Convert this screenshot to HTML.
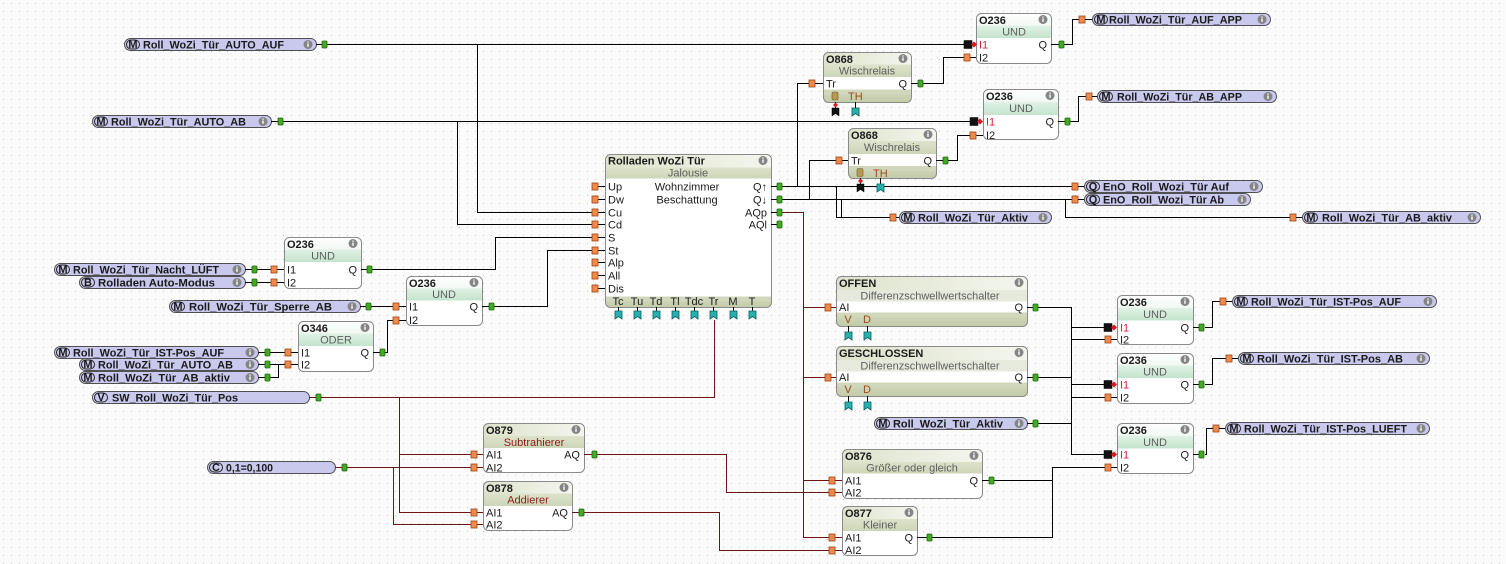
<!DOCTYPE html>
<html><head><meta charset="utf-8">
<style>
html,body{margin:0;padding:0;background:#fbfbfb;}
svg{display:block}
text{font-family:"Liberation Sans",Arial,sans-serif;font-size:11px;fill:#1a1a1a}
.b{font-weight:bold}
.g{fill:#5e5e5e}
.r{fill:#8b1c1c}
.br{fill:#9a4a1c}
.neg{fill:#d4213d}
.w{stroke:#000;stroke-width:1;fill:none}
.a{stroke:#6e1414;stroke-width:1;fill:none}
.op{fill:#ef8a4c;stroke:#9a4514;stroke-width:.8}
.gp{fill:#41ab22;stroke:#1d640c;stroke-width:.8}
.cp{fill:#27b0ae;stroke:#0d5f5e;stroke-width:.8}
.kp{fill:#111;stroke:#000;stroke-width:.5}
.rd{fill:#e0141e}
.pill{fill:#c9c9ee;stroke:#505050;stroke-width:1}
.pre{fill:none;stroke:#222;stroke-width:1}
.box{fill:none;stroke:#8a8a8a;stroke-width:1}
.inf{fill:#858585}
.wh{fill:#fff}
</style></head><body>
<svg width="1506" height="564" viewBox="0 0 1506 564" xmlns="http://www.w3.org/2000/svg">
<defs>
<pattern id="dots" width="8" height="8" patternUnits="userSpaceOnUse"><rect x="3" y="3" width="1" height="1" fill="#c6c6c6"/></pattern>
<linearGradient id="gT" x1="0" y1="0" x2="0" y2="1"><stop offset="0" stop-color="#ffffff"/><stop offset="1" stop-color="#edf6ef"/></linearGradient>
<linearGradient id="gU" x1="0" y1="0" x2="0" y2="1"><stop offset="0" stop-color="#e0f2e5"/><stop offset="1" stop-color="#c4e4cd"/></linearGradient>
<linearGradient id="gO" x1="0" y1="0" x2="1" y2="0"><stop offset="0" stop-color="#dde3cc"/><stop offset="1" stop-color="#f4f6ee"/></linearGradient>
<linearGradient id="gB" x1="0" y1="0" x2="0" y2="1"><stop offset="0" stop-color="#dde3cb"/><stop offset="1" stop-color="#cdd6b8"/></linearGradient>
<linearGradient id="gL" x1="0" y1="0" x2="0" y2="1"><stop offset="0" stop-color="#d2d9bd"/><stop offset="1" stop-color="#c2cba9"/></linearGradient>
</defs>
<rect width="1506" height="564" fill="#fbfbfb"/>
<rect width="1506" height="564" fill="url(#dots)"/>

<!-- ============ WIRES black ============ -->
<g class="w">
<path d="M327 44.5H964"/>
<path d="M477.5 44.5V212.5H592"/>
<path d="M283 121.5H970"/>
<path d="M457.5 121.5V224.5H592"/>
<path d="M1064 44.5H1072.5V19.5H1079"/>
<path d="M1070 121.5H1078.5V96.5H1086"/>
<path d="M923 83.5H943.5V57.5H964"/>
<path d="M948 160.5H957.5V135.5H970"/>
<path d="M782 186.5H1072"/>
<path d="M797.5 186.5V83.5H809"/>
<path d="M836.5 186.5V217.5H890"/>
<path d="M782 199.5H1072"/>
<path d="M809.5 199.5V160.5H836"/>
<path d="M841.5 199.5V217.5"/>
<path d="M1065.5 199.5V217.5H1290"/>
<path d="M372 269.5H495.5V237.5H592"/>
<path d="M494 306.5H547.5V250.5H592"/>
<path d="M257 269.5H271"/>
<path d="M257 282.5H271"/>
<path d="M371 306.5H393"/>
<path d="M385 352.5H387.5V320.5H393"/>
<path d="M270 352.5H285"/>
<path d="M270 364.5H285"/>
<path d="M270 377.5H278.5V364.5"/>
<path d="M1038 307.5H1071.5V454.5H1104"/>
<path d="M1071.5 327.5H1104"/>
<path d="M1071.5 339.5H1105"/>
<path d="M1038 377.5H1071.5"/>
<path d="M1071.5 384.5H1104"/>
<path d="M1071.5 397.5H1105"/>
<path d="M1038 423.5H1071.5"/>
<path d="M994 480.5H1052.5"/>
<path d="M932 537.5H1052.5V467.5H1105"/>
<path d="M1205 327.5H1212.5V301.5H1220"/>
<path d="M1205 384.5H1212.5V358.5H1226"/>
<path d="M1205 454.5H1206.5V428.5H1213"/>
</g>
<!-- ============ WIRES analog ============ -->
<g class="a">
<path d="M321 397.5H714.5V320"/>
<path d="M399.5 397.5V512.5H471"/>
<path d="M399.5 454.5H471"/>
<path d="M347 467.5H471"/>
<path d="M393.5 467.5V524.5H471"/>
<path d="M597 454.5H726.5V492.5H829"/>
<path d="M584 512.5H719.5V550.5H829"/>
<path d="M782 212.5H803.5V537.5H829"/>
<path d="M803.5 307.5H825"/>
<path d="M803.5 377.5H825"/>
<path d="M803.5 480.5H829"/>
</g>

<!-- ============ PILLS (sources) ============ -->
<g>
<!-- AUTO_AUF -->
<rect class="pill" x="124.5" y="38.5" width="192" height="12" rx="6"/>
<rect class="pre" x="126.5" y="40" width="13" height="9" rx="4.5"/><text class="b" x="133" y="48" text-anchor="middle" font-size="9.5">M</text>
<text class="b" x="143" y="48.5" textLength="141" lengthAdjust="spacingAndGlyphs">Roll_WoZi_Tür_AUTO_AUF</text>
<circle class="inf" cx="308" cy="44.5" r="4.5"/><rect class="wh" x="307.3" y="43.5" width="1.4" height="3.3"/><rect class="wh" x="307.3" y="41.5" width="1.4" height="1.2"/>
<path class="w" d="M316 44.5H322"/><rect class="gp" x="322" y="41" width="5" height="7" rx="1"/>

<!-- AUTO_AB -->
<rect class="pill" x="92.5" y="115.5" width="179" height="12" rx="6"/>
<rect class="pre" x="94.5" y="117" width="13" height="9" rx="4.5"/><text class="b" x="101" y="125" text-anchor="middle" font-size="9.5">M</text>
<text class="b" x="111" y="125.5" textLength="135" lengthAdjust="spacingAndGlyphs">Roll_WoZi_Tür_AUTO_AB</text>
<circle class="inf" cx="263" cy="121.5" r="4.5"/><rect class="wh" x="262.3" y="120.5" width="1.4" height="3.3"/><rect class="wh" x="262.3" y="118.5" width="1.4" height="1.2"/>
<path class="w" d="M271 121.5H278"/><rect class="gp" x="278" y="118" width="5" height="7" rx="1"/>

<!-- Nacht_LÜFT -->
<rect class="pill" x="54.5" y="263.5" width="191" height="12" rx="6"/>
<rect class="pre" x="56.5" y="265" width="13" height="9" rx="4.5"/><text class="b" x="63" y="273" text-anchor="middle" font-size="9.5">M</text>
<text class="b" x="73" y="273.5" textLength="146" lengthAdjust="spacingAndGlyphs">Roll_WoZi_Tür_Nacht_LÜFT</text>
<circle class="inf" cx="237" cy="269.5" r="4.5"/><rect class="wh" x="236.3" y="268.5" width="1.4" height="3.3"/><rect class="wh" x="236.3" y="266.5" width="1.4" height="1.2"/>
<path class="w" d="M245 269.5H252"/><rect class="gp" x="252" y="266" width="5" height="7" rx="1"/>

<!-- Auto-Modus -->
<rect class="pill" x="79.5" y="276.5" width="166" height="12" rx="6"/>
<rect class="pre" x="81.5" y="278" width="13" height="9" rx="4.5"/><text class="b" x="88" y="286" text-anchor="middle" font-size="9.5">B</text>
<text class="b" x="98" y="286.5" textLength="117" lengthAdjust="spacingAndGlyphs">Rolladen Auto-Modus</text>
<circle class="inf" cx="237" cy="282.5" r="4.5"/><rect class="wh" x="236.3" y="281.5" width="1.4" height="3.3"/><rect class="wh" x="236.3" y="279.5" width="1.4" height="1.2"/>
<path class="w" d="M245 282.5H252"/><rect class="gp" x="252" y="279" width="5" height="7" rx="1"/>

<!-- Sperre_AB -->
<rect class="pill" x="169.5" y="300.5" width="191" height="12" rx="6"/>
<rect class="pre" x="171.5" y="302" width="13" height="9" rx="4.5"/><text class="b" x="178" y="310" text-anchor="middle" font-size="9.5">M</text>
<text class="b" x="189" y="310.5" textLength="143" lengthAdjust="spacingAndGlyphs">Roll_WoZi_Tür_Sperre_AB</text>
<circle class="inf" cx="352" cy="306.5" r="4.5"/><rect class="wh" x="351.3" y="305.5" width="1.4" height="3.3"/><rect class="wh" x="351.3" y="303.5" width="1.4" height="1.2"/>
<path class="w" d="M360 306.5H366"/><rect class="gp" x="366" y="303" width="5" height="7" rx="1"/>

<!-- IST-Pos_AUF left -->
<rect class="pill" x="54.5" y="346.5" width="204" height="12" rx="6"/>
<rect class="pre" x="56.5" y="348" width="13" height="9" rx="4.5"/><text class="b" x="63" y="356" text-anchor="middle" font-size="9.5">M</text>
<text class="b" x="73" y="356.5" textLength="151" lengthAdjust="spacingAndGlyphs">Roll_WoZi_Tür_IST-Pos_AUF</text>
<circle class="inf" cx="250" cy="352.5" r="4.5"/><rect class="wh" x="249.3" y="351.5" width="1.4" height="3.3"/><rect class="wh" x="249.3" y="349.5" width="1.4" height="1.2"/>
<path class="w" d="M258 352.5H265"/><rect class="gp" x="265" y="349" width="5" height="7" rx="1"/>

<!-- AUTO_AB left -->
<rect class="pill" x="79.5" y="358.5" width="179" height="12" rx="6"/>
<rect class="pre" x="81.5" y="360" width="13" height="9" rx="4.5"/><text class="b" x="88" y="368" text-anchor="middle" font-size="9.5">M</text>
<text class="b" x="98" y="368.5" textLength="135" lengthAdjust="spacingAndGlyphs">Roll_WoZi_Tür_AUTO_AB</text>
<circle class="inf" cx="250" cy="364.5" r="4.5"/><rect class="wh" x="249.3" y="363.5" width="1.4" height="3.3"/><rect class="wh" x="249.3" y="361.5" width="1.4" height="1.2"/>
<path class="w" d="M258 364.5H265"/><rect class="gp" x="265" y="361" width="5" height="7" rx="1"/>

<!-- AB_aktiv left -->
<rect class="pill" x="79.5" y="371.5" width="179" height="12" rx="6"/>
<rect class="pre" x="81.5" y="373" width="13" height="9" rx="4.5"/><text class="b" x="88" y="381" text-anchor="middle" font-size="9.5">M</text>
<text class="b" x="98" y="381.5" textLength="132" lengthAdjust="spacingAndGlyphs">Roll_WoZi_Tür_AB_aktiv</text>
<circle class="inf" cx="250" cy="377.5" r="4.5"/><rect class="wh" x="249.3" y="376.5" width="1.4" height="3.3"/><rect class="wh" x="249.3" y="374.5" width="1.4" height="1.2"/>
<path class="w" d="M258 377.5H265"/><rect class="gp" x="265" y="374" width="5" height="7" rx="1"/>

<!-- SW_Pos -->
<rect class="pill" x="92.5" y="391.5" width="217" height="12" rx="6"/>
<rect class="pre" x="94.5" y="393" width="13" height="9" rx="4.5"/><text class="b" x="101" y="401" text-anchor="middle" font-size="9.5">V</text>
<text class="b" x="112" y="401.5" textLength="126" lengthAdjust="spacingAndGlyphs">SW_Roll_WoZi_Tür_Pos</text>
<path class="a" d="M309 397.5H316"/><rect class="gp" x="316" y="394" width="5" height="7" rx="1"/>

<!-- Aktiv 2 -->
<rect class="pill" x="874.5" y="417.5" width="153" height="12" rx="6"/>
<rect class="pre" x="876.5" y="419" width="13" height="9" rx="4.5"/><text class="b" x="883" y="427" text-anchor="middle" font-size="9.5">M</text>
<text class="b" x="893" y="427.5" textLength="110" lengthAdjust="spacingAndGlyphs">Roll_WoZi_Tür_Aktiv</text>
<circle class="inf" cx="1019" cy="423.5" r="4.5"/><rect class="wh" x="1018.3" y="422.5" width="1.4" height="3.3"/><rect class="wh" x="1018.3" y="420.5" width="1.4" height="1.2"/>
<path class="w" d="M1027 423.5H1033"/><rect class="gp" x="1033" y="420" width="5" height="7" rx="1"/>

<!-- C constant -->
<rect class="pill" x="207.5" y="461.5" width="128" height="12" rx="6"/>
<rect class="pre" x="209.5" y="463" width="13" height="9" rx="4.5"/><text class="b" x="216" y="471" text-anchor="middle" font-size="9.5">C</text>
<text class="b" x="226" y="471.5" textLength="47" lengthAdjust="spacingAndGlyphs">0,1=0,100</text>
<path class="a" d="M335 467.5H342"/><rect class="gp" x="342" y="464" width="5" height="7" rx="1"/>
</g>

<!-- ============ PILLS (sinks) ============ -->
<g>
<!-- AUF_APP -->
<rect class="op" x="1079" y="16" width="6" height="7"/><path class="w" d="M1085 19.5H1092"/>
<rect class="pill" x="1092.5" y="13.5" width="178" height="12" rx="6"/>
<rect class="pre" x="1094.5" y="15" width="13" height="9" rx="4.5"/><text class="b" x="1101" y="23" text-anchor="middle" font-size="9.5">M</text>
<text class="b" x="1109" y="23.5" textLength="133" lengthAdjust="spacingAndGlyphs">Roll_WoZi_Tür_AUF_APP</text>
<circle class="inf" cx="1262" cy="19.5" r="4.5"/><rect class="wh" x="1261.3" y="18.5" width="1.4" height="3.3"/><rect class="wh" x="1261.3" y="16.5" width="1.4" height="1.2"/>

<!-- AB_APP -->
<rect class="op" x="1086" y="93" width="6" height="7"/><path class="w" d="M1092 96.5H1097"/>
<rect class="pill" x="1097.5" y="90.5" width="179" height="12" rx="6"/>
<rect class="pre" x="1099.5" y="92" width="13" height="9" rx="4.5"/><text class="b" x="1106" y="100" text-anchor="middle" font-size="9.5">M</text>
<text class="b" x="1117" y="100.5" textLength="125" lengthAdjust="spacingAndGlyphs">Roll_WoZi_Tür_AB_APP</text>
<circle class="inf" cx="1268" cy="96.5" r="4.5"/><rect class="wh" x="1267.3" y="95.5" width="1.4" height="3.3"/><rect class="wh" x="1267.3" y="93.5" width="1.4" height="1.2"/>

<!-- EnO Auf -->
<rect class="op" x="1072" y="183" width="6" height="7"/><path class="w" d="M1078 186.5H1084"/>
<rect class="pill" x="1084.5" y="180.5" width="178" height="12" rx="6"/>
<rect class="pre" x="1086.5" y="182" width="13" height="9" rx="4.5"/><text class="b" x="1093" y="190" text-anchor="middle" font-size="9.5">Q</text>
<text class="b" x="1103" y="190.5" textLength="126" lengthAdjust="spacingAndGlyphs">EnO_Roll_Wozi_Tür Auf</text>
<circle class="inf" cx="1254" cy="186.5" r="4.5"/><rect class="wh" x="1253.3" y="185.5" width="1.4" height="3.3"/><rect class="wh" x="1253.3" y="183.5" width="1.4" height="1.2"/>

<!-- EnO Ab -->
<rect class="op" x="1072" y="196" width="6" height="7"/><path class="w" d="M1078 199.5H1084"/>
<rect class="pill" x="1084.5" y="193.5" width="166" height="12" rx="6"/>
<rect class="pre" x="1086.5" y="195" width="13" height="9" rx="4.5"/><text class="b" x="1093" y="203" text-anchor="middle" font-size="9.5">Q</text>
<text class="b" x="1103" y="203.5" textLength="121" lengthAdjust="spacingAndGlyphs">EnO_Roll_Wozi_Tür Ab</text>
<circle class="inf" cx="1242" cy="199.5" r="4.5"/><rect class="wh" x="1241.3" y="198.5" width="1.4" height="3.3"/><rect class="wh" x="1241.3" y="196.5" width="1.4" height="1.2"/>

<!-- AB_aktiv right -->
<rect class="op" x="1290" y="214" width="6" height="7"/><path class="w" d="M1296 217.5H1302"/>
<rect class="pill" x="1302.5" y="211.5" width="178" height="12" rx="6"/>
<rect class="pre" x="1304.5" y="213" width="13" height="9" rx="4.5"/><text class="b" x="1311" y="221" text-anchor="middle" font-size="9.5">M</text>
<text class="b" x="1322" y="221.5" textLength="130" lengthAdjust="spacingAndGlyphs">Roll_WoZi_Tür_AB_aktiv</text>
<circle class="inf" cx="1472" cy="217.5" r="4.5"/><rect class="wh" x="1471.3" y="216.5" width="1.4" height="3.3"/><rect class="wh" x="1471.3" y="214.5" width="1.4" height="1.2"/>

<!-- Aktiv top -->
<rect class="op" x="890" y="214" width="6" height="7"/><path class="w" d="M896 217.5H899"/>
<rect class="pill" x="899.5" y="211.5" width="152" height="12" rx="6"/>
<rect class="pre" x="901.5" y="213" width="13" height="9" rx="4.5"/><text class="b" x="908" y="221" text-anchor="middle" font-size="9.5">M</text>
<text class="b" x="918" y="221.5" textLength="110" lengthAdjust="spacingAndGlyphs">Roll_WoZi_Tür_Aktiv</text>
<circle class="inf" cx="1043" cy="217.5" r="4.5"/><rect class="wh" x="1042.3" y="216.5" width="1.4" height="3.3"/><rect class="wh" x="1042.3" y="214.5" width="1.4" height="1.2"/>

<!-- IST-Pos_AUF right -->
<rect class="op" x="1220" y="298" width="6" height="7"/><path class="w" d="M1226 301.5H1232"/>
<rect class="pill" x="1232.5" y="295.5" width="204" height="12" rx="6"/>
<rect class="pre" x="1234.5" y="297" width="13" height="9" rx="4.5"/><text class="b" x="1241" y="305" text-anchor="middle" font-size="9.5">M</text>
<text class="b" x="1251" y="305.5" textLength="150" lengthAdjust="spacingAndGlyphs">Roll_WoZi_Tür_IST-Pos_AUF</text>
<circle class="inf" cx="1428" cy="301.5" r="4.5"/><rect class="wh" x="1427.3" y="300.5" width="1.4" height="3.3"/><rect class="wh" x="1427.3" y="298.5" width="1.4" height="1.2"/>

<!-- IST-Pos_AB -->
<rect class="op" x="1226" y="355" width="6" height="7"/><path class="w" d="M1232 358.5H1238"/>
<rect class="pill" x="1238.5" y="352.5" width="191" height="12" rx="6"/>
<rect class="pre" x="1240.5" y="354" width="13" height="9" rx="4.5"/><text class="b" x="1247" y="362" text-anchor="middle" font-size="9.5">M</text>
<text class="b" x="1257" y="362.5" textLength="146" lengthAdjust="spacingAndGlyphs">Roll_WoZi_Tür_IST-Pos_AB</text>
<circle class="inf" cx="1421" cy="358.5" r="4.5"/><rect class="wh" x="1420.3" y="357.5" width="1.4" height="3.3"/><rect class="wh" x="1420.3" y="355.5" width="1.4" height="1.2"/>

<!-- IST-Pos_LUEFT -->
<rect class="op" x="1213" y="425" width="6" height="7"/><path class="w" d="M1219 428.5H1225"/>
<rect class="pill" x="1225.5" y="422.5" width="204" height="12" rx="6"/>
<rect class="pre" x="1227.5" y="424" width="13" height="9" rx="4.5"/><text class="b" x="1234" y="432" text-anchor="middle" font-size="9.5">M</text>
<text class="b" x="1244" y="432.5" textLength="163" lengthAdjust="spacingAndGlyphs">Roll_WoZi_Tür_IST-Pos_LUEFT</text>
<circle class="inf" cx="1421" cy="428.5" r="4.5"/><rect class="wh" x="1420.3" y="427.5" width="1.4" height="3.3"/><rect class="wh" x="1420.3" y="425.5" width="1.4" height="1.2"/>
</g>

<!-- ============ MAIN BLOCK ============ -->
<g>
<rect x="605.5" y="154.5" width="166" height="153" rx="5" fill="#fff"/>
<rect x="605.5" y="154.5" width="166" height="18" rx="5" fill="url(#gO)"/>
<rect x="605.5" y="167.5" width="166" height="11" fill="url(#gB)"/>
<rect x="605.5" y="296.5" width="166" height="11" rx="5" fill="url(#gL)"/>
<rect x="605.5" y="296.5" width="166" height="5" fill="#d0d7bb"/>
<rect class="box" x="605.5" y="154.5" width="166" height="153" rx="5"/>
<text class="b" x="608" y="164.5">Rolladen WoZi Tür</text>
<circle class="inf" cx="763" cy="160.5" r="4.5"/><rect class="wh" x="762.3" y="159.5" width="1.4" height="3.3"/><rect class="wh" x="762.3" y="157.5" width="1.4" height="1.2"/>
<text class="g" x="688" y="176.5" text-anchor="middle">Jalousie</text>
<text x="687" y="190.5" text-anchor="middle">Wohnzimmer</text>
<text x="687" y="203.5" text-anchor="middle">Beschattung</text>
<g>
<text x="608" y="190.5">Up</text><text x="608" y="203.5">Dw</text><text x="608" y="216.5">Cu</text><text x="608" y="228.5">Cd</text>
<text x="608" y="241.5">S</text><text x="608" y="254.5">St</text><text x="608" y="266.5">Alp</text><text x="608" y="279.5">All</text><text x="608" y="292.5">Dis</text>
</g>
<g class="w">
<path d="M598 186.5H605M598 199.5H605M598 212.5H605M598 224.5H605M598 237.5H605M598 250.5H605M598 262.5H605M598 275.5H605M598 288.5H605"/>
</g>
<rect class="op" x="592" y="183" width="6" height="7"/><rect class="op" x="592" y="196" width="6" height="7"/><rect class="op" x="592" y="209" width="6" height="7"/>
<rect class="op" x="592" y="221" width="6" height="7"/><rect class="op" x="592" y="234" width="6" height="7"/><rect class="op" x="592" y="247" width="6" height="7"/>
<rect class="op" x="592" y="259" width="6" height="7"/><rect class="op" x="592" y="272" width="6" height="7"/><rect class="op" x="592" y="285" width="6" height="7"/>
<text x="767" y="190.5" text-anchor="end">Q↑</text><text x="767" y="203.5" text-anchor="end">Q↓</text>
<text x="767" y="216.5" text-anchor="end">AQp</text><text x="767" y="228.5" text-anchor="end">AQl</text>
<path class="w" d="M771 186.5H777M771 199.5H777M771 212.5H777M771 224.5H777"/>
<rect class="gp" x="777" y="183" width="5" height="7" rx="1"/><rect class="gp" x="777" y="196" width="5" height="7" rx="1"/>
<rect class="gp" x="777" y="209" width="5" height="7" rx="1"/><rect class="gp" x="777" y="221" width="5" height="7" rx="1"/>
<g class="br" text-anchor="middle">
<text x="618" y="305">Tc</text><text x="637" y="305">Tu</text><text x="656" y="305">Td</text><text x="675" y="305">Tl</text>
<text x="694" y="305">Tdc</text><text x="713.5" y="305">Tr</text><text x="733" y="305">M</text><text x="752" y="305">T</text>
</g>
<path class="w" d="M618.5 307V311M637.5 307V311M656.5 307V311M675.5 307V311M694.5 307V311M713.5 307V311M733.5 307V311M752.5 307V311"/>
<g class="cp">
<path d="M615 311H622V319L618.5 316.5L615 319Z"/><path d="M634 311H641V319L637.5 316.5L634 319Z"/>
<path d="M653 311H660V319L656.5 316.5L653 319Z"/><path d="M672 311H679V319L675.5 316.5L672 319Z"/>
<path d="M691 311H698V319L694.5 316.5L691 319Z"/><path d="M710 311H717V319L713.5 316.5L710 319Z"/>
<path d="M730 311H737V319L733.5 316.5L730 319Z"/><path d="M749 311H756V319L752.5 316.5L749 319Z"/>
</g>
</g>

<!-- ============ UND top1 ============ -->
<g>
<rect x="976.5" y="13.5" width="75" height="50" rx="5" fill="#fff"/>
<rect x="976.5" y="13.5" width="75" height="16" rx="5" fill="url(#gT)"/>
<rect x="976.5" y="26" width="75" height="12" fill="url(#gU)"/>
<rect class="box" x="976.5" y="13.5" width="75" height="50" rx="5"/>
<text class="b" x="979" y="24">O236</text>
<circle class="inf" cx="1043" cy="19.5" r="4.5"/><rect class="wh" x="1042.3" y="18.5" width="1.4" height="3.3"/><rect class="wh" x="1042.3" y="16.5" width="1.4" height="1.2"/>
<text class="g" x="1014" y="35.5" text-anchor="middle">UND</text>
<text class="neg" x="979" y="48.5">I1</text><text x="979" y="61.5">I2</text>
<text x="1047" y="48.5" text-anchor="end">Q</text>
<rect class="kp" x="964" y="40.5" width="8" height="8"/><path class="rd" d="M971 44.5L974 41.5L977 44.5L974 47.5Z"/>
<path class="w" d="M970 57.5H976"/><rect class="op" x="964" y="54" width="6" height="7"/>
<path class="w" d="M1051 44.5H1059"/><rect class="gp" x="1059" y="41" width="5" height="7" rx="1"/>
</g>

<!-- ============ UND top2 ============ -->
<g>
<rect x="983.5" y="89.5" width="75" height="50" rx="5" fill="#fff"/>
<rect x="983.5" y="89.5" width="75" height="16" rx="5" fill="url(#gT)"/>
<rect x="983.5" y="102" width="75" height="13" fill="url(#gU)"/>
<rect class="box" x="983.5" y="89.5" width="75" height="50" rx="5"/>
<text class="b" x="986" y="100">O236</text>
<circle class="inf" cx="1050" cy="95.5" r="4.5"/><rect class="wh" x="1049.3" y="94.5" width="1.4" height="3.3"/><rect class="wh" x="1049.3" y="92.5" width="1.4" height="1.2"/>
<text class="g" x="1021" y="112" text-anchor="middle">UND</text>
<text class="neg" x="986" y="125.5">I1</text><text x="986" y="139">I2</text>
<text x="1054" y="125.5" text-anchor="end">Q</text>
<rect class="kp" x="970" y="117.5" width="8" height="8"/><path class="rd" d="M977 121.5L980 118.5L983 121.5L980 124.5Z"/>
<path class="w" d="M976 135.5H983"/><rect class="op" x="970" y="132" width="6" height="7"/>
<path class="w" d="M1058 121.5H1065"/><rect class="gp" x="1065" y="118" width="5" height="7" rx="1"/>
</g>

<!-- ============ Wischrelais 1 ============ -->
<g>
<rect x="823.5" y="52.5" width="88" height="50" rx="5" fill="#fff"/>
<rect x="823.5" y="52.5" width="88" height="16" rx="5" fill="url(#gO)"/>
<rect x="823.5" y="64.5" width="88" height="12.5" fill="url(#gB)"/>
<rect x="823.5" y="89.5" width="88" height="13" rx="5" fill="url(#gL)"/>
<rect x="823.5" y="89.5" width="88" height="5" fill="#d0d7bb"/>
<rect class="box" x="823.5" y="52.5" width="88" height="50" rx="5"/>
<text class="b" x="826" y="63">O868</text>
<circle class="inf" cx="903" cy="58.5" r="4.5"/><rect class="wh" x="902.3" y="57.5" width="1.4" height="3.3"/><rect class="wh" x="902.3" y="55.5" width="1.4" height="1.2"/>
<text class="g" x="867" y="74.5" text-anchor="middle">Wischrelais</text>
<text x="826" y="87.5">Tr</text><text x="907" y="87.5" text-anchor="end">Q</text>
<rect x="832" y="92" width="6" height="8" rx="1.5" fill="#b69a52" stroke="#6b5a2a" stroke-width=".6"/>
<text class="br" x="848" y="100">TH</text>
<path class="w" d="M815 83.5H823"/><rect class="op" x="809" y="80" width="6" height="7"/>
<path class="w" d="M911 83.5H918"/><rect class="gp" x="918" y="80" width="5" height="7" rx="1"/>
<path class="w" d="M835.5 102V108M855.5 102V108"/>
<path class="rd" d="M835.5 102.5L838 105L835.5 107.5L833 105Z"/>
<path class="kp" d="M832 108H839V116L835.5 113.5L832 116Z"/>
<path class="cp" d="M852 108H859V116L855.5 113.5L852 116Z"/>
</g>

<!-- ============ Wischrelais 2 ============ -->
<g>
<rect x="848.5" y="128.5" width="88" height="50" rx="5" fill="#fff"/>
<rect x="848.5" y="128.5" width="88" height="16" rx="5" fill="url(#gO)"/>
<rect x="848.5" y="141" width="88" height="13" fill="url(#gB)"/>
<rect x="848.5" y="166" width="88" height="12.5" rx="5" fill="url(#gL)"/>
<rect x="848.5" y="166" width="88" height="5" fill="#d0d7bb"/>
<rect class="box" x="848.5" y="128.5" width="88" height="50" rx="5"/>
<text class="b" x="851" y="139">O868</text>
<circle class="inf" cx="928" cy="134.5" r="4.5"/><rect class="wh" x="927.3" y="133.5" width="1.4" height="3.3"/><rect class="wh" x="927.3" y="131.5" width="1.4" height="1.2"/>
<text class="g" x="892" y="151" text-anchor="middle">Wischrelais</text>
<text x="851" y="164.5">Tr</text><text x="932" y="164.5" text-anchor="end">Q</text>
<rect x="857" y="168.5" width="6" height="8" rx="1.5" fill="#b69a52" stroke="#6b5a2a" stroke-width=".6"/>
<text class="br" x="873" y="177">TH</text>
<path class="w" d="M842 160.5H848"/><rect class="op" x="836" y="157" width="6" height="7"/>
<path class="w" d="M936 160.5H943"/><rect class="gp" x="943" y="157" width="5" height="7" rx="1"/>
<path class="w" d="M860.5 178V184M880.5 178V184"/>
<path class="rd" d="M860.5 178.5L863 181L860.5 183.5L858 181Z"/>
<path class="kp" d="M857 184H864V192L860.5 189.5L857 192Z"/>
<path class="cp" d="M877 184H884V192L880.5 189.5L877 192Z"/>
</g>

<!-- ============ UND A ============ -->
<g>
<rect x="284.5" y="237.5" width="77" height="51" rx="5" fill="#fff"/>
<rect x="284.5" y="237.5" width="77" height="16" rx="5" fill="url(#gT)"/>
<rect x="284.5" y="249.5" width="77" height="12.5" fill="url(#gU)"/>
<rect class="box" x="284.5" y="237.5" width="77" height="51" rx="5"/>
<text class="b" x="287" y="248">O236</text>
<circle class="inf" cx="353" cy="243.5" r="4.5"/><rect class="wh" x="352.3" y="242.5" width="1.4" height="3.3"/><rect class="wh" x="352.3" y="240.5" width="1.4" height="1.2"/>
<text class="g" x="323" y="259.5" text-anchor="middle">UND</text>
<text x="287" y="273.5">I1</text><text x="287" y="286.5">I2</text>
<text x="357" y="273.5" text-anchor="end">Q</text>
<path class="w" d="M277 269.5H284M277 282.5H284"/>
<rect class="op" x="271" y="266" width="6" height="7"/><rect class="op" x="271" y="279" width="6" height="7"/>
<path class="w" d="M361 269.5H367"/><rect class="gp" x="367" y="266" width="5" height="7" rx="1"/>
</g>

<!-- ============ UND B ============ -->
<g>
<rect x="406.5" y="276.5" width="76" height="49" rx="5" fill="#fff"/>
<rect x="406.5" y="276.5" width="76" height="16" rx="5" fill="url(#gT)"/>
<rect x="406.5" y="288.5" width="76" height="12" fill="url(#gU)"/>
<rect class="box" x="406.5" y="276.5" width="76" height="49" rx="5"/>
<text class="b" x="409" y="287">O236</text>
<circle class="inf" cx="474" cy="282.5" r="4.5"/><rect class="wh" x="473.3" y="281.5" width="1.4" height="3.3"/><rect class="wh" x="473.3" y="279.5" width="1.4" height="1.2"/>
<text class="g" x="444" y="298" text-anchor="middle">UND</text>
<text x="409" y="310.5">I1</text><text x="409" y="324">I2</text>
<text x="478" y="310.5" text-anchor="end">Q</text>
<path class="w" d="M399 306.5H406M399 320.5H406"/>
<rect class="op" x="393" y="303" width="6" height="7"/><rect class="op" x="393" y="317" width="6" height="7"/>
<path class="w" d="M482 306.5H489"/><rect class="gp" x="489" y="303" width="5" height="7" rx="1"/>
</g>

<!-- ============ ODER ============ -->
<g>
<rect x="298.5" y="321.5" width="75" height="50" rx="5" fill="#fff"/>
<rect x="298.5" y="321.5" width="75" height="16" rx="5" fill="url(#gT)"/>
<rect x="298.5" y="333.5" width="75" height="12.5" fill="url(#gU)"/>
<rect class="box" x="298.5" y="321.5" width="75" height="50" rx="5"/>
<text class="b" x="301" y="332">O346</text>
<circle class="inf" cx="365" cy="327.5" r="4.5"/><rect class="wh" x="364.3" y="326.5" width="1.4" height="3.3"/><rect class="wh" x="364.3" y="324.5" width="1.4" height="1.2"/>
<text class="g" x="336" y="343.5" text-anchor="middle">ODER</text>
<text x="301" y="356.5">I1</text><text x="301" y="368.5">I2</text>
<text x="369" y="356.5" text-anchor="end">Q</text>
<path class="w" d="M291 352.5H298M291 364.5H298"/>
<rect class="op" x="285" y="349" width="6" height="7"/><rect class="op" x="285" y="361" width="6" height="7"/>
<path class="w" d="M373 352.5H380"/><rect class="gp" x="380" y="349" width="5" height="7" rx="1"/>
</g>

<!-- ============ OFFEN ============ -->
<g>
<rect x="836.5" y="276.5" width="191" height="50" rx="5" fill="#fff"/>
<rect x="836.5" y="276.5" width="191" height="17" rx="5" fill="url(#gO)"/>
<rect x="836.5" y="290" width="191" height="11.5" fill="#e6eadc"/>
<rect x="836.5" y="312.5" width="191" height="14" rx="5" fill="url(#gL)"/>
<rect x="836.5" y="312.5" width="191" height="5" fill="#d0d7bb"/>
<rect class="box" x="836.5" y="276.5" width="191" height="50" rx="5"/>
<text class="b" x="839" y="287">OFFEN</text>
<circle class="inf" cx="1019" cy="282.5" r="4.5"/><rect class="wh" x="1018.3" y="281.5" width="1.4" height="3.3"/><rect class="wh" x="1018.3" y="279.5" width="1.4" height="1.2"/>
<text class="g" x="930" y="299.5" text-anchor="middle">Differenzschwellwertschalter</text>
<text x="839" y="311">AI</text><text x="1023" y="311" text-anchor="end">Q</text>
<text class="br" x="848" y="323" text-anchor="middle">V</text><text class="br" x="867" y="323" text-anchor="middle">D</text>
<path class="a" d="M831 307.5H836"/><rect class="op" x="825" y="304" width="6" height="7"/>
<path class="w" d="M1027 307.5H1033"/><rect class="gp" x="1033" y="304" width="5" height="7" rx="1"/>
<path class="w" d="M848.5 326V332M867.5 326V332"/>
<path class="cp" d="M845 332H852V340L848.5 337.5L845 340Z"/><path class="cp" d="M864 332H871V340L867.5 337.5L864 340Z"/>
</g>

<!-- ============ GESCHLOSSEN ============ -->
<g>
<rect x="836.5" y="346.5" width="191" height="50" rx="5" fill="#fff"/>
<rect x="836.5" y="346.5" width="191" height="17" rx="5" fill="url(#gO)"/>
<rect x="836.5" y="360" width="191" height="11.5" fill="#e6eadc"/>
<rect x="836.5" y="382.5" width="191" height="14" rx="5" fill="url(#gL)"/>
<rect x="836.5" y="382.5" width="191" height="5" fill="#d0d7bb"/>
<rect class="box" x="836.5" y="346.5" width="191" height="50" rx="5"/>
<text class="b" x="839" y="357">GESCHLOSSEN</text>
<circle class="inf" cx="1019" cy="352.5" r="4.5"/><rect class="wh" x="1018.3" y="351.5" width="1.4" height="3.3"/><rect class="wh" x="1018.3" y="349.5" width="1.4" height="1.2"/>
<text class="g" x="930" y="369.5" text-anchor="middle">Differenzschwellwertschalter</text>
<text x="839" y="381">AI</text><text x="1023" y="381" text-anchor="end">Q</text>
<text class="br" x="848" y="393" text-anchor="middle">V</text><text class="br" x="867" y="393" text-anchor="middle">D</text>
<path class="a" d="M831 377.5H836"/><rect class="op" x="825" y="374" width="6" height="7"/>
<path class="w" d="M1027 377.5H1033"/><rect class="gp" x="1033" y="374" width="5" height="7" rx="1"/>
<path class="w" d="M848.5 396V402M867.5 396V402"/>
<path class="cp" d="M845 402H852V410L848.5 407.5L845 410Z"/><path class="cp" d="M864 402H871V410L867.5 407.5L864 410Z"/>
</g>

<!-- ============ UND R1 ============ -->
<g>
<rect x="1117.5" y="295.5" width="76" height="49" rx="5" fill="#fff"/>
<rect x="1117.5" y="295.5" width="76" height="16" rx="5" fill="url(#gT)"/>
<rect x="1117.5" y="308" width="76" height="12.5" fill="url(#gU)"/>
<rect class="box" x="1117.5" y="295.5" width="76" height="49" rx="5"/>
<text class="b" x="1120" y="306">O236</text>
<circle class="inf" cx="1185" cy="301.5" r="4.5"/><rect class="wh" x="1184.3" y="300.5" width="1.4" height="3.3"/><rect class="wh" x="1184.3" y="298.5" width="1.4" height="1.2"/>
<text class="g" x="1155" y="318" text-anchor="middle">UND</text>
<text class="neg" x="1120" y="331.5">I1</text><text x="1120" y="343.5">I2</text>
<text x="1189" y="331.5" text-anchor="end">Q</text>
<rect class="kp" x="1104" y="323.5" width="8" height="8"/><path class="rd" d="M1111 327.5L1114 324.5L1117 327.5L1114 330.5Z"/>
<path class="w" d="M1111 339.5H1117"/><rect class="op" x="1105" y="336" width="6" height="7"/>
<path class="w" d="M1193 327.5H1199"/><rect class="gp" x="1199" y="324" width="5" height="7" rx="1"/>
</g>

<!-- ============ UND R2 ============ -->
<g>
<rect x="1117.5" y="353.5" width="76" height="50" rx="5" fill="#fff"/>
<rect x="1117.5" y="353.5" width="76" height="16" rx="5" fill="url(#gT)"/>
<rect x="1117.5" y="365.5" width="76" height="12.5" fill="url(#gU)"/>
<rect class="box" x="1117.5" y="353.5" width="76" height="50" rx="5"/>
<text class="b" x="1120" y="364">O236</text>
<circle class="inf" cx="1185" cy="359.5" r="4.5"/><rect class="wh" x="1184.3" y="358.5" width="1.4" height="3.3"/><rect class="wh" x="1184.3" y="356.5" width="1.4" height="1.2"/>
<text class="g" x="1155" y="375.5" text-anchor="middle">UND</text>
<text class="neg" x="1120" y="388.5">I1</text><text x="1120" y="401.5">I2</text>
<text x="1189" y="388.5" text-anchor="end">Q</text>
<rect class="kp" x="1104" y="380.5" width="8" height="8"/><path class="rd" d="M1111 384.5L1114 381.5L1117 384.5L1114 387.5Z"/>
<path class="w" d="M1111 397.5H1117"/><rect class="op" x="1105" y="394" width="6" height="7"/>
<path class="w" d="M1193 384.5H1199"/><rect class="gp" x="1199" y="381" width="5" height="7" rx="1"/>
</g>

<!-- ============ UND R3 ============ -->
<g>
<rect x="1117.5" y="423.5" width="76" height="50" rx="5" fill="#fff"/>
<rect x="1117.5" y="423.5" width="76" height="16" rx="5" fill="url(#gT)"/>
<rect x="1117.5" y="436" width="76" height="12.5" fill="url(#gU)"/>
<rect class="box" x="1117.5" y="423.5" width="76" height="50" rx="5"/>
<text class="b" x="1120" y="434">O236</text>
<circle class="inf" cx="1185" cy="429.5" r="4.5"/><rect class="wh" x="1184.3" y="428.5" width="1.4" height="3.3"/><rect class="wh" x="1184.3" y="426.5" width="1.4" height="1.2"/>
<text class="g" x="1155" y="446" text-anchor="middle">UND</text>
<text class="neg" x="1120" y="458.5">I1</text><text x="1120" y="471.5">I2</text>
<text x="1189" y="458.5" text-anchor="end">Q</text>
<rect class="kp" x="1104" y="450.5" width="8" height="8"/><path class="rd" d="M1111 454.5L1114 451.5L1117 454.5L1114 457.5Z"/>
<path class="w" d="M1111 467.5H1117"/><rect class="op" x="1105" y="464" width="6" height="7"/>
<path class="w" d="M1193 454.5H1199"/><rect class="gp" x="1199" y="451" width="5" height="7" rx="1"/>
</g>

<!-- ============ Subtrahierer ============ -->
<g>
<rect x="483.5" y="423.5" width="101" height="49" rx="5" fill="#fff"/>
<rect x="483.5" y="423.5" width="101" height="17" rx="5" fill="url(#gO)"/>
<rect x="483.5" y="436" width="101" height="12" fill="url(#gB)"/>
<rect class="box" x="483.5" y="423.5" width="101" height="49" rx="5"/>
<text class="b" x="486" y="434">O879</text>
<circle class="inf" cx="576" cy="429.5" r="4.5"/><rect class="wh" x="575.3" y="428.5" width="1.4" height="3.3"/><rect class="wh" x="575.3" y="426.5" width="1.4" height="1.2"/>
<text class="r" x="534" y="446" text-anchor="middle">Subtrahierer</text>
<text x="486" y="458.5">AI1</text><text x="486" y="471.5">AI2</text>
<text x="580" y="458.5" text-anchor="end">AQ</text>
<path class="a" d="M477 454.5H483M477 467.5H483"/>
<rect class="op" x="471" y="451" width="6" height="7"/><rect class="op" x="471" y="464" width="6" height="7"/>
<path class="a" d="M584 454.5H592"/><rect class="gp" x="592" y="451" width="5" height="7" rx="1"/>
</g>

<!-- ============ Addierer ============ -->
<g>
<rect x="483.5" y="481.5" width="89" height="49" rx="5" fill="#fff"/>
<rect x="483.5" y="481.5" width="89" height="17" rx="5" fill="url(#gO)"/>
<rect x="483.5" y="493.5" width="89" height="12.5" fill="url(#gB)"/>
<rect class="box" x="483.5" y="481.5" width="89" height="49" rx="5"/>
<text class="b" x="486" y="492">O878</text>
<circle class="inf" cx="564" cy="487.5" r="4.5"/><rect class="wh" x="563.3" y="486.5" width="1.4" height="3.3"/><rect class="wh" x="563.3" y="484.5" width="1.4" height="1.2"/>
<text class="r" x="528" y="503.5" text-anchor="middle">Addierer</text>
<text x="486" y="516.5">AI1</text><text x="486" y="528.5">AI2</text>
<text x="568" y="516.5" text-anchor="end">AQ</text>
<path class="a" d="M477 512.5H483M477 524.5H483"/>
<rect class="op" x="471" y="509" width="6" height="7"/><rect class="op" x="471" y="521" width="6" height="7"/>
<path class="a" d="M572 512.5H579"/><rect class="gp" x="579" y="509" width="5" height="7" rx="1"/>
</g>

<!-- ============ Größer oder gleich ============ -->
<g>
<rect x="842.5" y="449.5" width="140" height="49" rx="5" fill="#fff"/>
<rect x="842.5" y="449.5" width="140" height="17" rx="5" fill="url(#gO)"/>
<rect x="842.5" y="462" width="140" height="11.5" fill="url(#gB)"/>
<rect class="box" x="842.5" y="449.5" width="140" height="49" rx="5"/>
<text class="b" x="845" y="460">O876</text>
<circle class="inf" cx="974" cy="455.5" r="4.5"/><rect class="wh" x="973.3" y="454.5" width="1.4" height="3.3"/><rect class="wh" x="973.3" y="452.5" width="1.4" height="1.2"/>
<text class="g" x="912" y="471.5" text-anchor="middle">Größer oder gleich</text>
<text x="845" y="484.5">AI1</text><text x="845" y="496.5">AI2</text>
<text x="978" y="484.5" text-anchor="end">Q</text>
<path class="a" d="M835 480.5H842M835 492.5H842"/>
<rect class="op" x="829" y="477" width="6" height="7"/><rect class="op" x="829" y="489" width="6" height="7"/>
<path class="w" d="M982 480.5H989"/><rect class="gp" x="989" y="477" width="5" height="7" rx="1"/>
</g>

<!-- ============ Kleiner ============ -->
<g>
<rect x="842.5" y="506.5" width="75" height="49" rx="5" fill="#fff"/>
<rect x="842.5" y="506.5" width="75" height="17" rx="5" fill="url(#gO)"/>
<rect x="842.5" y="519" width="75" height="12" fill="url(#gB)"/>
<rect class="box" x="842.5" y="506.5" width="75" height="49" rx="5"/>
<text class="b" x="845" y="517">O877</text>
<circle class="inf" cx="909" cy="512.5" r="4.5"/><rect class="wh" x="908.3" y="511.5" width="1.4" height="3.3"/><rect class="wh" x="908.3" y="509.5" width="1.4" height="1.2"/>
<text class="g" x="880" y="528.5" text-anchor="middle">Kleiner</text>
<text x="845" y="541.5">AI1</text><text x="845" y="554">AI2</text>
<text x="913" y="541.5" text-anchor="end">Q</text>
<path class="a" d="M835 537.5H842M835 550.5H842"/>
<rect class="op" x="829" y="534" width="6" height="7"/><rect class="op" x="829" y="547" width="6" height="7"/>
<path class="w" d="M917 537.5H927"/><rect class="gp" x="927" y="534" width="5" height="7" rx="1"/>
</g>

</svg>
</body></html>
